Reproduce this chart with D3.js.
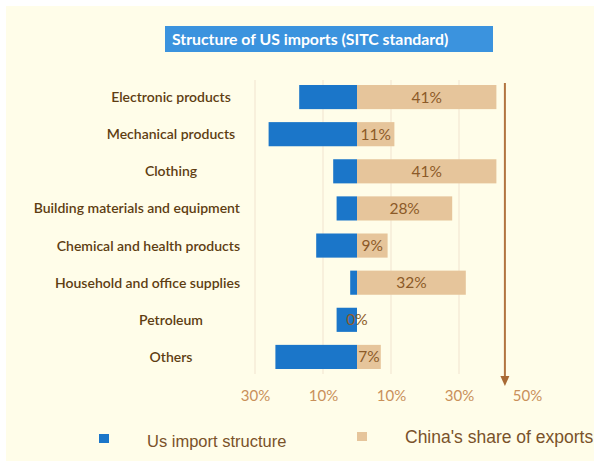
<!DOCTYPE html>
<html>
<head>
<meta charset="utf-8">
<script src="https://cdn.jsdelivr.net/npm/d3@7"></script>
<style>
  html, body { margin: 0; padding: 0; background: #ffffff; }
  svg { display: block; }
</style>
</head>
<body>
<svg id="chart" width="600" height="467"></svg>
<script>
// Product groups, top to bottom
const categories = [
  "Electronic products",
  "Mechanical products",
  "Clothing",
  "Building materials and equipment",
  "Chemical and health products",
  "Household and office supplies",
  "Petroleum",
  "Others"
];
// Share of US imports (%), drawn to the left of zero
const usImportStructure = [17, 26, 7, 6, 12, 2, 6, 24];
// China's share of US imports in each group (%), drawn to the right
const chinaShare = [41, 11, 41, 28, 9, 32, 0, 7];
// Axis ticks (signed) and their printed labels
const tickValues = [-30, -10, 10, 30, 50];
const tickLabels = ["30%", "10%", "10%", "30%", "50%"];
const seriesNames = ["Us import structure", "China's share of exports"];

const colors = { us: "#1b76c9", china: "#e6c59b" };
const svg = d3.select("#chart");

// cream panel
svg.append("rect").attr("x", 6).attr("y", 6).attr("width", 588).attr("height", 455)
  .attr("fill", "#fffde9");

const x = d3.scaleLinear().domain([-30, 50]).range([255, 527]);
const y = d3.scaleBand().domain(categories).range([78.5, 375.5]).paddingInner(0.35).paddingOuter(0.175);

// title banner
svg.append("rect").attr("x", 165).attr("y", 26).attr("width", 328).attr("height", 26)
  .attr("fill", "#3b93de");
svg.append("text").attr("x", 172).attr("y", 45)
  .attr("font-family", "Lato, 'Open Sans', sans-serif").attr("font-weight", "bold")
  .attr("font-size", 15.8).attr("fill", "#ffffff")
  .text("Structure of US imports (SITC standard)");

// vertical gridlines
svg.append("g").selectAll("line").data(tickValues.filter(v => v < 50)).join("line")
  .attr("x1", d => x(d)).attr("x2", d => x(d))
  .attr("y1", 80).attr("y2", 374)
  .attr("stroke", "#f1e3cf").attr("stroke-width", 1);

// axis tick labels
const axis = d3.axisBottom(x).tickValues(tickValues)
  .tickFormat((d, i) => tickLabels[i]).tickSize(0).tickPadding(0);
const gAxis = svg.append("g").attr("transform", "translate(0,390)").call(axis);
gAxis.select(".domain").remove();
gAxis.selectAll("text")
  .attr("font-family", "Lato, 'Open Sans', sans-serif").attr("font-size", 15)
  .attr("fill", "#c9905a");

// US import structure bars (left)
svg.append("g").selectAll("rect").data(categories).join("rect")
  .attr("x", (d, i) => x(-usImportStructure[i]))
  .attr("y", d => y(d))
  .attr("width", (d, i) => x(0) - x(-usImportStructure[i]))
  .attr("height", y.bandwidth())
  .attr("fill", colors.us);

// China share bars (right)
svg.append("g").selectAll("rect").data(categories).join("rect")
  .attr("x", x(0))
  .attr("y", d => y(d))
  .attr("width", (d, i) => x(chinaShare[i]) - x(0))
  .attr("height", y.bandwidth())
  .attr("fill", colors.china);

// value labels
svg.append("g").selectAll("text").data(categories).join("text")
  .attr("x", (d, i) => (x(0) + x(chinaShare[i])) / 2)
  .attr("y", d => y(d) + y.bandwidth() / 2 + 5.5)
  .attr("text-anchor", "middle")
  .attr("font-family", "Lato, 'Open Sans', sans-serif").attr("font-size", 15.5)
  .attr("fill", "#8c5a28")
  .text((d, i) => chinaShare[i] + "%");

// category labels: centred on a column, pulled left when too long
const labels = svg.append("g").selectAll("text").data(categories).join("text")
  .attr("y", d => y(d) + y.bandwidth() / 2 + 5)
  .attr("text-anchor", "end")
  .attr("font-family", "Lato, 'Open Sans', sans-serif").attr("font-size", 14)
  .attr("font-weight", 600)
  .attr("fill", "#5e3d12")
  .text(d => d);
labels.each(function () {
  const w = this.getComputedTextLength();
  d3.select(this).attr("x", Math.min(171 + w / 2, 240));
});

// downward arrow at the right
const arrowX = x(43.5);
svg.append("line").attr("x1", arrowX).attr("x2", arrowX).attr("y1", 83).attr("y2", 378)
  .attr("stroke", "#b27440").attr("stroke-width", 2);
svg.append("path")
  .attr("d", `M${arrowX - 4.5},376 L${arrowX + 4.5},376 L${arrowX},386 Z`)
  .attr("fill", "#a86a35");

// legend
const legend = svg.append("g");
const legendItems = [
  { name: seriesNames[0], color: colors.us, sx: 99, sy: 434, tx: 147, ty: 447, fs: 16.5 },
  { name: seriesNames[1], color: colors.china, sx: 357, sy: 432, tx: 405, ty: 443, fs: 17.5 }
];
legend.selectAll("rect").data(legendItems).join("rect")
  .attr("x", d => d.sx).attr("y", d => d.sy).attr("width", 10).attr("height", 9)
  .attr("fill", d => d.color);
legend.selectAll("text").data(legendItems).join("text")
  .attr("x", d => d.tx).attr("y", d => d.ty)
  .attr("font-family", "'Liberation Sans', Arial, sans-serif").attr("font-size", d => d.fs)
  .attr("fill", "#7a5229")
  .text(d => d.name);
</script>
</body>
</html>
